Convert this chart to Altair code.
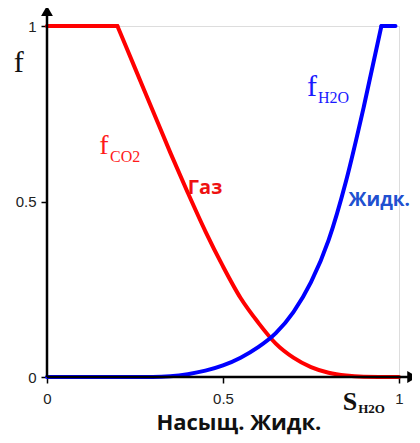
import altair as alt
import pandas as pd

# Gas (CO2) fractional flow curve
red_x = [0, 0.2, 0.25, 0.3, 0.35, 0.4, 0.45, 0.5, 0.55, 0.6, 0.65, 0.7, 0.75, 0.8, 0.85, 0.9, 1.0]
red_y = [1, 1, 0.88, 0.76, 0.64, 0.525, 0.415, 0.315, 0.225, 0.155, 0.095, 0.055, 0.028, 0.012, 0.004, 0.001, 0]

# Liquid (H2O) fractional flow curve
blue_x = [0, 0.3, 0.35, 0.4, 0.45, 0.5, 0.55, 0.6, 0.65, 0.7, 0.75, 0.8, 0.85, 0.9, 0.95, 0.99]
blue_y = [0, 0, 0.002, 0.008, 0.018, 0.033, 0.055, 0.085, 0.125, 0.185, 0.27, 0.39, 0.56, 0.77, 1, 1]

tick_values = [0, 0.5, 1]

# annotation texts (data coordinates)
ann_text = ["f", "f", "CO2", "Газ", "f", "H2O", "Жидк.", "S", "H2O", "Насыщ. Жидк."]
ann_x = [-0.080, 0.162, 0.179, 0.449, 0.753, 0.770, 0.944, 0.861, 0.884, 0.545]
ann_y = [0.869, 0.635, 0.6125, 0.521, 0.80, 0.781, 0.487, -0.094, -0.103, -0.151]
ann_color = ["#111111", "#ff1a1a", "#ff1a1a", "#ee1111", "#1a1aff", "#1a1aff", "#2050d0", "#111111", "#111111", "#111111"]
ann_size = [30, 28, 16, 20, 30, 16, 19, 26, 13, 22]
ann_font = ["Liberation Serif", "Liberation Serif", "Liberation Serif", "Open Sans", "Liberation Serif",
            "Liberation Serif", "Open Sans", "Liberation Serif", "Liberation Serif", "Open Sans"]
ann_weight = ["normal", "normal", "normal", "bold", "normal", "normal", "bold", "bold", "bold", "bold"]
ann_align = ["center", "center", "left", "center", "center", "left", "center", "center", "left", "center"]

# axis arrows
axis_x_end = 1.05
axis_y_end = 1.055

red_flat = pd.DataFrame({"s": red_x[:2], "f": red_y[:2]})
red_curve = pd.DataFrame({"s": red_x[1:], "f": red_y[1:]})
blue_curve = pd.DataFrame({"s": blue_x[:-1], "f": blue_y[:-1]})
blue_flat = pd.DataFrame({"s": blue_x[-2:], "f": blue_y[-2:]})
ann_df = pd.DataFrame({"t": ann_text, "x": ann_x, "y": ann_y})

xs = alt.Scale(domain=[0, 1], nice=False, zero=False)
ys = alt.Scale(domain=[0, 1], nice=False, zero=False)

label_common = dict(labelFont="Liberation Sans", labelFontSize=15, labelColor="#222222",
                    tickColor="#000000", tickWidth=1.5, tickSize=6, domain=False, grid=False,
                    labelFlush=False, labelOverlap=False, title=None, values=tick_values, format="~g")

xaxis = alt.Axis(labelPadding=8, **label_common)
yaxis = alt.Axis(labelPadding=5, **label_common)

base_axes = alt.Chart(pd.DataFrame({"s": [0], "f": [0]})).mark_point(opacity=0).encode(
    x=alt.X("s:Q", scale=xs, axis=xaxis),
    y=alt.Y("f:Q", scale=ys, axis=yaxis),
)

xline = alt.Chart(pd.DataFrame({"x1": [0], "x2": [axis_x_end - 0.02], "y": [0]})).mark_rule(
    color="black", strokeWidth=2.5).encode(
    x=alt.X("x1:Q", scale=xs), x2="x2:Q", y=alt.Y("y:Q", scale=ys))
yline = alt.Chart(pd.DataFrame({"y1": [0], "y2": [axis_y_end - 0.02], "x": [0]})).mark_rule(
    color="black", strokeWidth=2.5).encode(
    y=alt.Y("y1:Q", scale=ys), y2="y2:Q", x=alt.X("x:Q", scale=xs))

xarrow = alt.Chart(pd.DataFrame({"x": [axis_x_end - 0.012], "y": [0]})).mark_point(
    shape="triangle-right", filled=True, color="black", size=140, opacity=1).encode(
    x=alt.X("x:Q", scale=xs), y=alt.Y("y:Q", scale=ys))
yarrow = alt.Chart(pd.DataFrame({"x": [0], "y": [axis_y_end - 0.012]})).mark_point(
    shape="triangle-up", filled=True, color="black", size=140, opacity=1).encode(
    x=alt.X("x:Q", scale=xs), y=alt.Y("y:Q", scale=ys))


def curve(df, color, interp):
    return alt.Chart(df).mark_line(color=color, strokeWidth=4, interpolate=interp,
                                   strokeCap="round", strokeJoin="round").encode(
        x=alt.X("s:Q", scale=xs), y=alt.Y("f:Q", scale=ys))


red_lines = [curve(red_flat, "#ff0000", "linear"), curve(red_curve, "#ff0000", "monotone")]
blue_lines = [curve(blue_curve, "#0000ff", "monotone"), curve(blue_flat, "#0000ff", "linear")]

texts = []
for i in range(len(ann_text)):
    sub = ann_df.iloc[[i]]
    texts.append(alt.Chart(sub).mark_text(
        font=ann_font[i], fontSize=ann_size[i], fontWeight=ann_weight[i], align=ann_align[i],
        baseline="alphabetic", color=ann_color[i]).encode(
        x=alt.X("x:Q", scale=xs), y=alt.Y("y:Q", scale=ys), text="t:N"))

chart = alt.layer(base_axes, *red_lines, *blue_lines, xline, yline, xarrow, yarrow, *texts).properties(
    width=352, height=351,
    autosize=alt.AutoSizeParams(type="none"),
    padding={"left": 39, "top": 18, "right": 13, "bottom": 58},
).configure_view(stroke=None).configure(background="white")

chart.save("out.html", embed_options={"renderer": "svg", "actions": False})
